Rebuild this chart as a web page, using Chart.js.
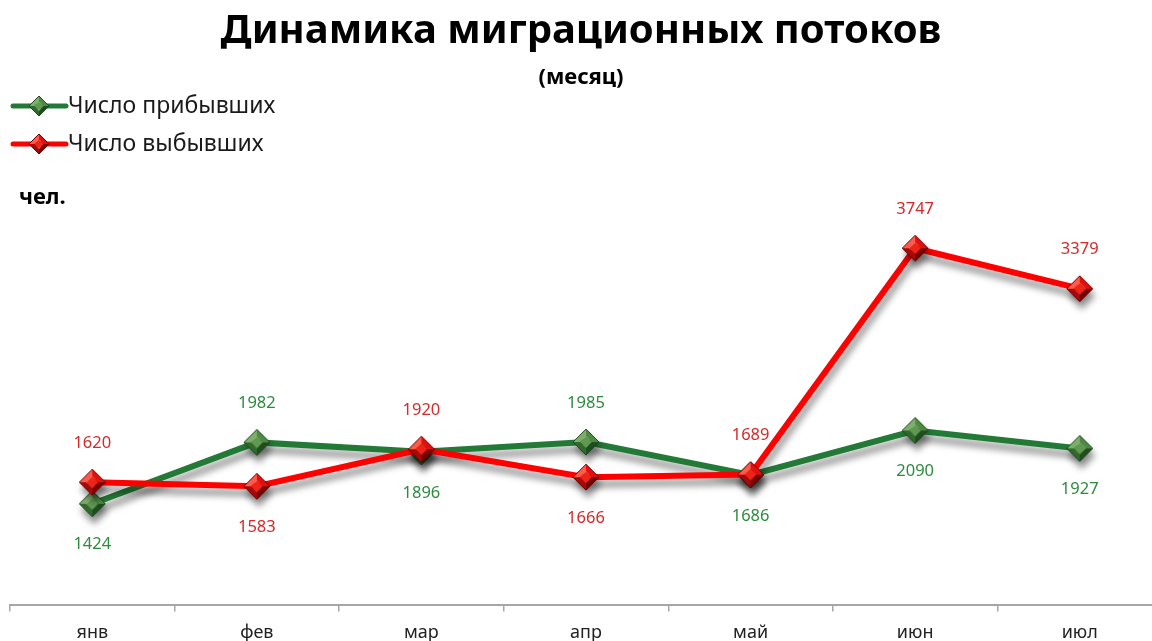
<!DOCTYPE html>
<html>
<head>
<meta charset="utf-8">
<script src="https://cdn.jsdelivr.net/npm/chart.js@4"></script>
<style>
  html, body { margin: 0; padding: 0; background: #fff; overflow: hidden; }
</style>
</head>
<body>
<canvas id="mycanvas" width="1152" height="641"></canvas>
<script>
// data
var months = ["янв", "фев", "мар", "апр", "май", "июн", "июл"];
var arrived = [1424, 1982, 1896, 1985, 1686, 2090, 1927];
var departed = [1620, 1583, 1920, 1666, 1689, 3747, 3379];
var seriesNames = ["Число прибывших", "Число выбывших"];

var FONT = "'Noto Sans', 'Open Sans', sans-serif";

// beveled diamond marker drawn into a small canvas
function makeDiamond(r, c) {
	var cv = document.createElement("canvas");
	var s = r * 2 + 2;
	cv.width = s; cv.height = s;
	var g = cv.getContext("2d");
	var m = s / 2, k = r * 0.45;
	function tri(pts, col) {
		g.beginPath();
		g.moveTo(pts[0], pts[1]);
		for (var i = 2; i < pts.length; i += 2) g.lineTo(pts[i], pts[i + 1]);
		g.closePath();
		g.fillStyle = col;
		g.fill();
	}
	// outer facets
	tri([m - r, m, m, m - r, m, m - k, m - k, m], c.light);
	tri([m, m - r, m + r, m, m + k, m, m, m - k], c.mid);
	tri([m + r, m, m, m + r, m, m + k, m + k, m], c.dark);
	tri([m, m + r, m - r, m, m - k, m, m, m + k], c.mid2);
	// top face
	tri([m - k, m, m, m - k, m + k, m, m, m + k], c.top);
	g.beginPath();
	g.moveTo(m - r, m); g.lineTo(m, m - r); g.lineTo(m + r, m); g.lineTo(m, m + r); g.closePath();
	g.strokeStyle = c.edge;
	g.lineWidth = 1;
	g.stroke();
	return cv;
}

var greenCols = { light: "#7fae6a", mid: "#4f8a45", dark: "#1f4d1f", mid2: "#2f6a2c", top: "#5f9a50", edge: "#1d4a1e" };
var redCols = { light: "#ff5a4a", mid: "#e01010", dark: "#7a0000", mid2: "#a80808", top: "#ee2418", edge: "#6a0000" };
var greenMark = makeDiamond(13, greenCols);
var redMark = makeDiamond(13, redCols);
var greenSmall = makeDiamond(10, greenCols);
var redSmall = makeDiamond(10, redCols);

// the x axis runs a little past the right edge of the picture
var widenX = {
	id: "widenX",
	afterLayout: function(chart) {
		var s = chart.scales.x;
		var extra = 20;
		s.right += extra;
		s.width += extra;
		s.configure();
		chart.chartArea.right += extra;
		chart.chartArea.width += extra;
	}
};

var lineShadow = {
	id: "lineShadow",
	beforeDatasetsDraw: function(chart) {
		var ctx = chart.ctx;
		ctx.save();
		ctx.shadowColor = "rgba(0,0,0,0.45)";
		ctx.shadowBlur = 7;
		ctx.shadowOffsetX = 2;
		ctx.shadowOffsetY = 7;
	},
	afterDatasetsDraw: function(chart) {
		chart.ctx.restore();
	}
};

// value labels, above the point if it is the higher one of the month
var valueLabels = {
	id: "valueLabels",
	afterDatasetsDraw: function(chart) {
		var ctx = chart.ctx;
		var cols = ["#2e8b3e", "#d42a2a"];
		ctx.save();
		ctx.font = "16.5px " + FONT;
		ctx.textAlign = "center";
		ctx.textBaseline = "middle";
		for (var d = 0; d < 2; d++) {
			var meta = chart.getDatasetMeta(d);
			var mine = chart.data.datasets[d].data;
			var other = chart.data.datasets[1 - d].data;
			ctx.fillStyle = cols[d];
			meta.data.forEach(function(pt, i) {
				var up = mine[i] > other[i];
				ctx.fillText(mine[i], pt.x, up ? pt.y - 39 : pt.y + 41);
			});
		}
		ctx.restore();
	}
};

// legend and unit text in the upper left corner
var cornerText = {
	id: "cornerText",
	afterDraw: function(chart) {
		var ctx = chart.ctx;
		var items = [
			{ col: "#237a36", mark: greenSmall, y: 106 },
			{ col: "#ff0000", mark: redSmall, y: 144 }
		];
		ctx.save();
		items.forEach(function(it, i) {
			ctx.strokeStyle = it.col;
			ctx.lineWidth = 5;
			ctx.lineCap = "round";
			ctx.beginPath();
			ctx.moveTo(13, it.y);
			ctx.lineTo(66, it.y);
			ctx.stroke();
			ctx.drawImage(it.mark, 39 - it.mark.width / 2, it.y - it.mark.height / 2);
			ctx.fillStyle = "#1a1a1a";
			ctx.font = "23px " + FONT;
			ctx.textBaseline = "middle";
			ctx.textAlign = "left";
			ctx.fillText(seriesNames[i], 68, it.y);
		});
		ctx.font = "bold 22px " + FONT;
		ctx.fillStyle = "#000";
		ctx.fillText("чел.", 19, 198);
		ctx.restore();
	}
};

var ctx = document.getElementById("mycanvas");

var LineGraph = new Chart(ctx, {
	type: "line",
	data: {
		labels: months,
		datasets: [
			{
				label: seriesNames[0],
				data: arrived,
				borderColor: "#237a36",
				backgroundColor: "#237a36",
				borderWidth: 6,
				pointStyle: greenMark,
				order: 1,
				fill: false,
				lineTension: 0
			},
			{
				label: seriesNames[1],
				data: departed,
				borderColor: "#ff0000",
				backgroundColor: "#ff0000",
				borderWidth: 6,
				pointStyle: redMark,
				order: 0,
				fill: false,
				lineTension: 0
			}
		]
	},
	options: {
		responsive: false,
		animation: false,
		layout: { padding: { left: 10, right: 0, top: 0, bottom: -14 } },
		plugins: {
			legend: { display: false },
			tooltip: { enabled: false },
			title: {
				display: true,
				text: "Динамика миграционных потоков",
				color: "#000",
				font: { family: FONT, size: 40, weight: "bold" },
				padding: { top: 8, bottom: 9 }
			},
			subtitle: {
				display: true,
				text: "(месяц)",
				color: "#000",
				font: { family: FONT, size: 22, weight: "bold" },
				padding: { top: 0, bottom: 129 }
			}
		},
		scales: {
			x: {
				offset: true,
				grid: { display: true, drawOnChartArea: false, offset: true, tickLength: 6, color: "#a6a6a6", lineWidth: 1.5 },
				border: { display: true, color: "#a6a6a6", width: 2 },
				ticks: { color: "#222", padding: 11, font: { family: FONT, size: 18 } }
			},
			y: {
				display: false,
				min: 500,
				max: 4000
			}
		}
	},
	plugins: [widenX, lineShadow, valueLabels, cornerText]
});
</script>
</body>
</html>
